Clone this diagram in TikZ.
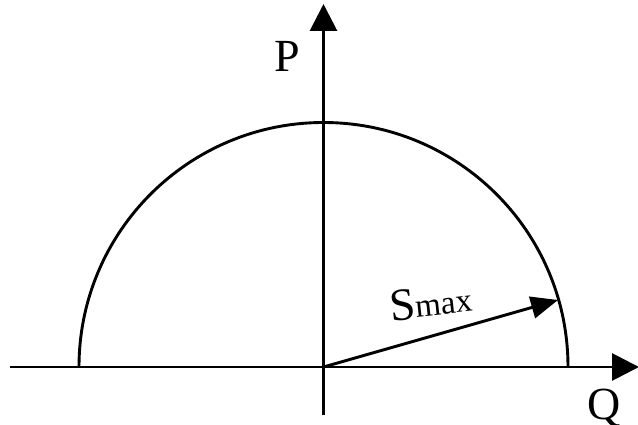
\documentclass[tikz,border=0pt]{standalone}
\usepackage{fontspec}
\setmainfont{Liberation Serif}
\usetikzlibrary{arrows.meta}
\begin{document}
\begin{tikzpicture}[x=1pt,y=-1pt,
  axis/.style={line width=2.9pt,-{Triangle[length=27pt,width=27pt]}},
  vec/.style={line width=2.9pt,-{Triangle[length=27pt,width=22pt]}},
  lbl/.style={font=\fontsize{46}{50}\selectfont,inner sep=0pt}]
\useasboundingbox (0,0) rectangle (638,425);
\coordinate (O) at (323.5,367);
\coordinate (xs) at (10,367);
\coordinate (xe) at (639,367);
\coordinate (ys) at (323.5,415);
\coordinate (ye) at (323.5,4);
\coordinate (L) at (79,367);
\coordinate (T) at (558,300);
\draw[axis] (xs) -- (xe);
\draw[axis] (ys) -- (ye);
\draw[line width=2.9pt] (L) arc[start angle=180,end angle=360,radius=244.5];
\draw[vec] (O) -- (T);
\node[lbl,anchor=base] (P) at (287,72) {P};
\node[lbl,anchor=base] (Q) at (604,419) {Q};
\node[lbl,rotate=6,anchor=base west] (S) at (391,322) {S\raisebox{0.1ex}{\fontsize{33}{35}\selectfont max}};
\end{tikzpicture}
\end{document}
